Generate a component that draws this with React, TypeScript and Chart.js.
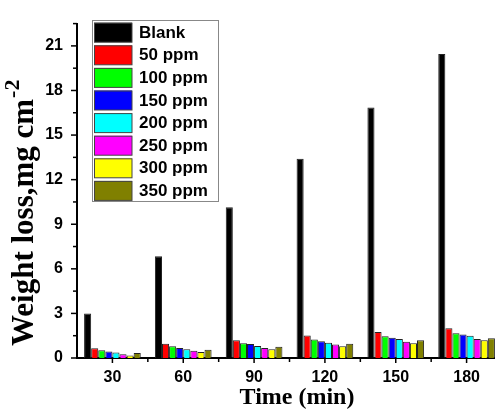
import React, { useEffect, useRef } from 'react';
import { Chart, registerables } from 'chart.js';

Chart.register(...registerables);

const categories = ['30', '60', '90', '120', '150', '180'];
const seriesLabels = ['Blank', '50 ppm', '100 ppm', '150 ppm', '200 ppm', '250 ppm', '300 ppm', '350 ppm'];
const seriesColors = ['#000000', '#ff0000', '#00ff00', '#0000ff', '#00ffff', '#ff00ff', '#ffff00', '#808000'];

const blank = [3.0, 6.85, 10.15, 13.4, 16.85, 20.45];
const ppm50 = [0.66, 0.96, 1.2, 1.51, 1.75, 2.01];
const ppm100 = [0.52, 0.79, 1.0, 1.25, 1.47, 1.66];
const ppm150 = [0.44, 0.68, 0.94, 1.12, 1.36, 1.58];
const ppm200 = [0.37, 0.59, 0.81, 1.03, 1.27, 1.49];
const ppm250 = [0.26, 0.48, 0.68, 0.9, 1.09, 1.27];
const ppm300 = [0.17, 0.41, 0.59, 0.79, 1.0, 1.2];
const ppm350 = [0.33, 0.55, 0.76, 0.96, 1.2, 1.33];

const seriesValues = [blank, ppm50, ppm100, ppm150, ppm200, ppm250, ppm300, ppm350];

const yMin = 0;
const yMax = 22.5;
const yStep = 3;
const yMinorStep = 1.5;
const yLastLabel = 21;

const xTitle = 'Time (min)';
const yTitleMain = 'Weight loss,mg cm';
const yTitleSup = '-2';

const CW = 504;
const CH = 409;

const sansFont = '"Liberation Sans", Arial, sans-serif';
const serifFont = '"Liberation Serif", "Times New Roman", serif';

const decorPlugin = {
  id: 'decor',
  afterDraw(chart: any) {
    const ctx = chart.ctx as CanvasRenderingContext2D;
    const xs = chart.scales.x;
    const ys = chart.scales.y;
    const area = chart.chartArea;
    ctx.save();
    ctx.strokeStyle = '#000';
    ctx.lineWidth = 1.5;

    // y ticks (major + minor), outward
    for (let v = yMin; v <= yMax + 1e-6; v += yMinorStep) {
      const py = ys.getPixelForValue(v);
      const major = Math.abs(v / yStep - Math.round(v / yStep)) < 1e-6;
      const len = major ? 6 : 4;
      ctx.beginPath();
      ctx.moveTo(area.left - len, py);
      ctx.lineTo(area.left, py);
      ctx.stroke();
    }

    // x ticks (major at centers, minor at boundaries)
    const half = (xs.getPixelForValue(1) - xs.getPixelForValue(0)) / 2;
    categories.forEach((_, i) => {
      const px = xs.getPixelForValue(i);
      ctx.beginPath();
      ctx.moveTo(px, area.bottom);
      ctx.lineTo(px, area.bottom + 5);
      ctx.stroke();
      const mx = px + half;
      ctx.beginPath();
      ctx.moveTo(mx, area.bottom);
      ctx.lineTo(mx, area.bottom + 4);
      ctx.stroke();
    });

    // x title
    ctx.fillStyle = '#000';
    ctx.font = `bold 24px ${serifFont}`;
    ctx.textAlign = 'center';
    ctx.textBaseline = 'alphabetic';
    ctx.fillText(xTitle, 297, 404);

    // y title (rotated)
    ctx.save();
    ctx.translate(33, 346);
    ctx.rotate(-Math.PI / 2);
    ctx.font = `bold 31px ${serifFont}`;
    ctx.textAlign = 'left';
    ctx.fillText(yTitleMain, 0, 0);
    const w = ctx.measureText(yTitleMain).width;
    ctx.font = `bold 22px ${serifFont}`;
    ctx.fillText(yTitleSup, w + 1, -14);
    ctx.restore();

    // legend
    const lx = 92.5, ly = 20.5, lw = 126, lh = 181;
    ctx.fillStyle = '#fff';
    ctx.fillRect(lx, ly, lw, lh);
    ctx.strokeStyle = '#888';
    ctx.lineWidth = 1;
    ctx.strokeRect(lx, ly, lw, lh);
    const ds = chart.data.datasets;
    ctx.font = `bold 17px ${sansFont}`;
    ctx.textAlign = 'left';
    ctx.textBaseline = 'middle';
    ds.forEach((d: any, i: number) => {
      const top = 22.7 + i * 22.6;
      ctx.fillStyle = d.backgroundColor;
      ctx.fillRect(94, top, 38, 19.5);
      ctx.strokeStyle = '#444';
      ctx.strokeRect(94.5, top + 0.5, 37.5, 19);
      ctx.fillStyle = '#000';
      ctx.fillText(d.label, 139, top + 10.5);
    });

    ctx.restore();
  },
};

export default function App() {
  const canvasRef = useRef<HTMLCanvasElement | null>(null);

  useEffect(() => {
    const canvas = canvasRef.current;
    if (!canvas) return;
    const chart = new Chart(canvas, {
      type: 'bar',
      data: {
        labels: categories,
        datasets: seriesLabels.map((label, i) => ({
          label,
          data: seriesValues[i],
          backgroundColor: seriesColors[i],
          borderColor: '#222',
          borderWidth: 1,
          categoryPercentage: 0.8,
          barPercentage: 1,
        })),
      },
      options: {
        responsive: false,
        animation: false,
        devicePixelRatio: 1,
        layout: { padding: { top: 16, right: 2, left: 0, bottom: 0 } },
        plugins: {
          legend: { display: false },
          tooltip: { enabled: false },
        },
        scales: {
          x: {
            type: 'category',
            offset: true,
            grid: { display: false, drawTicks: false },
            border: { display: true, color: '#000', width: 2 },
            ticks: {
              color: '#000',
              font: { family: sansFont, size: 16, weight: 'bold' },
              padding: 10,
              maxRotation: 0,
              autoSkip: false,
            },
            afterFit: (s: any) => {
              s.height = 51;
            },
          },
          y: {
            min: yMin,
            max: yMax,
            grid: { display: false, drawTicks: false },
            border: { display: true, color: '#000', width: 2 },
            ticks: {
              stepSize: yStep,
              color: '#000',
              font: { family: sansFont, size: 16, weight: 'bold' },
              padding: 14,
            },
            afterBuildTicks: (s: any) => {
              s.ticks = s.ticks.filter((t: any) => t.value <= yLastLabel + 1e-6);
            },
            afterFit: (s: any) => {
              s.width = 77;
            },
          },
        },
      },
      plugins: [decorPlugin],
    } as any);
    return () => chart.destroy();
  }, []);

  return (
    <div style={{ position: 'fixed', left: 0, top: 0, width: 495, height: 409, overflow: 'hidden', background: '#fff' }}>
      <canvas ref={canvasRef} width={CW} height={CH} style={{ width: CW, height: CH, display: 'block' }} />
    </div>
  );
}
